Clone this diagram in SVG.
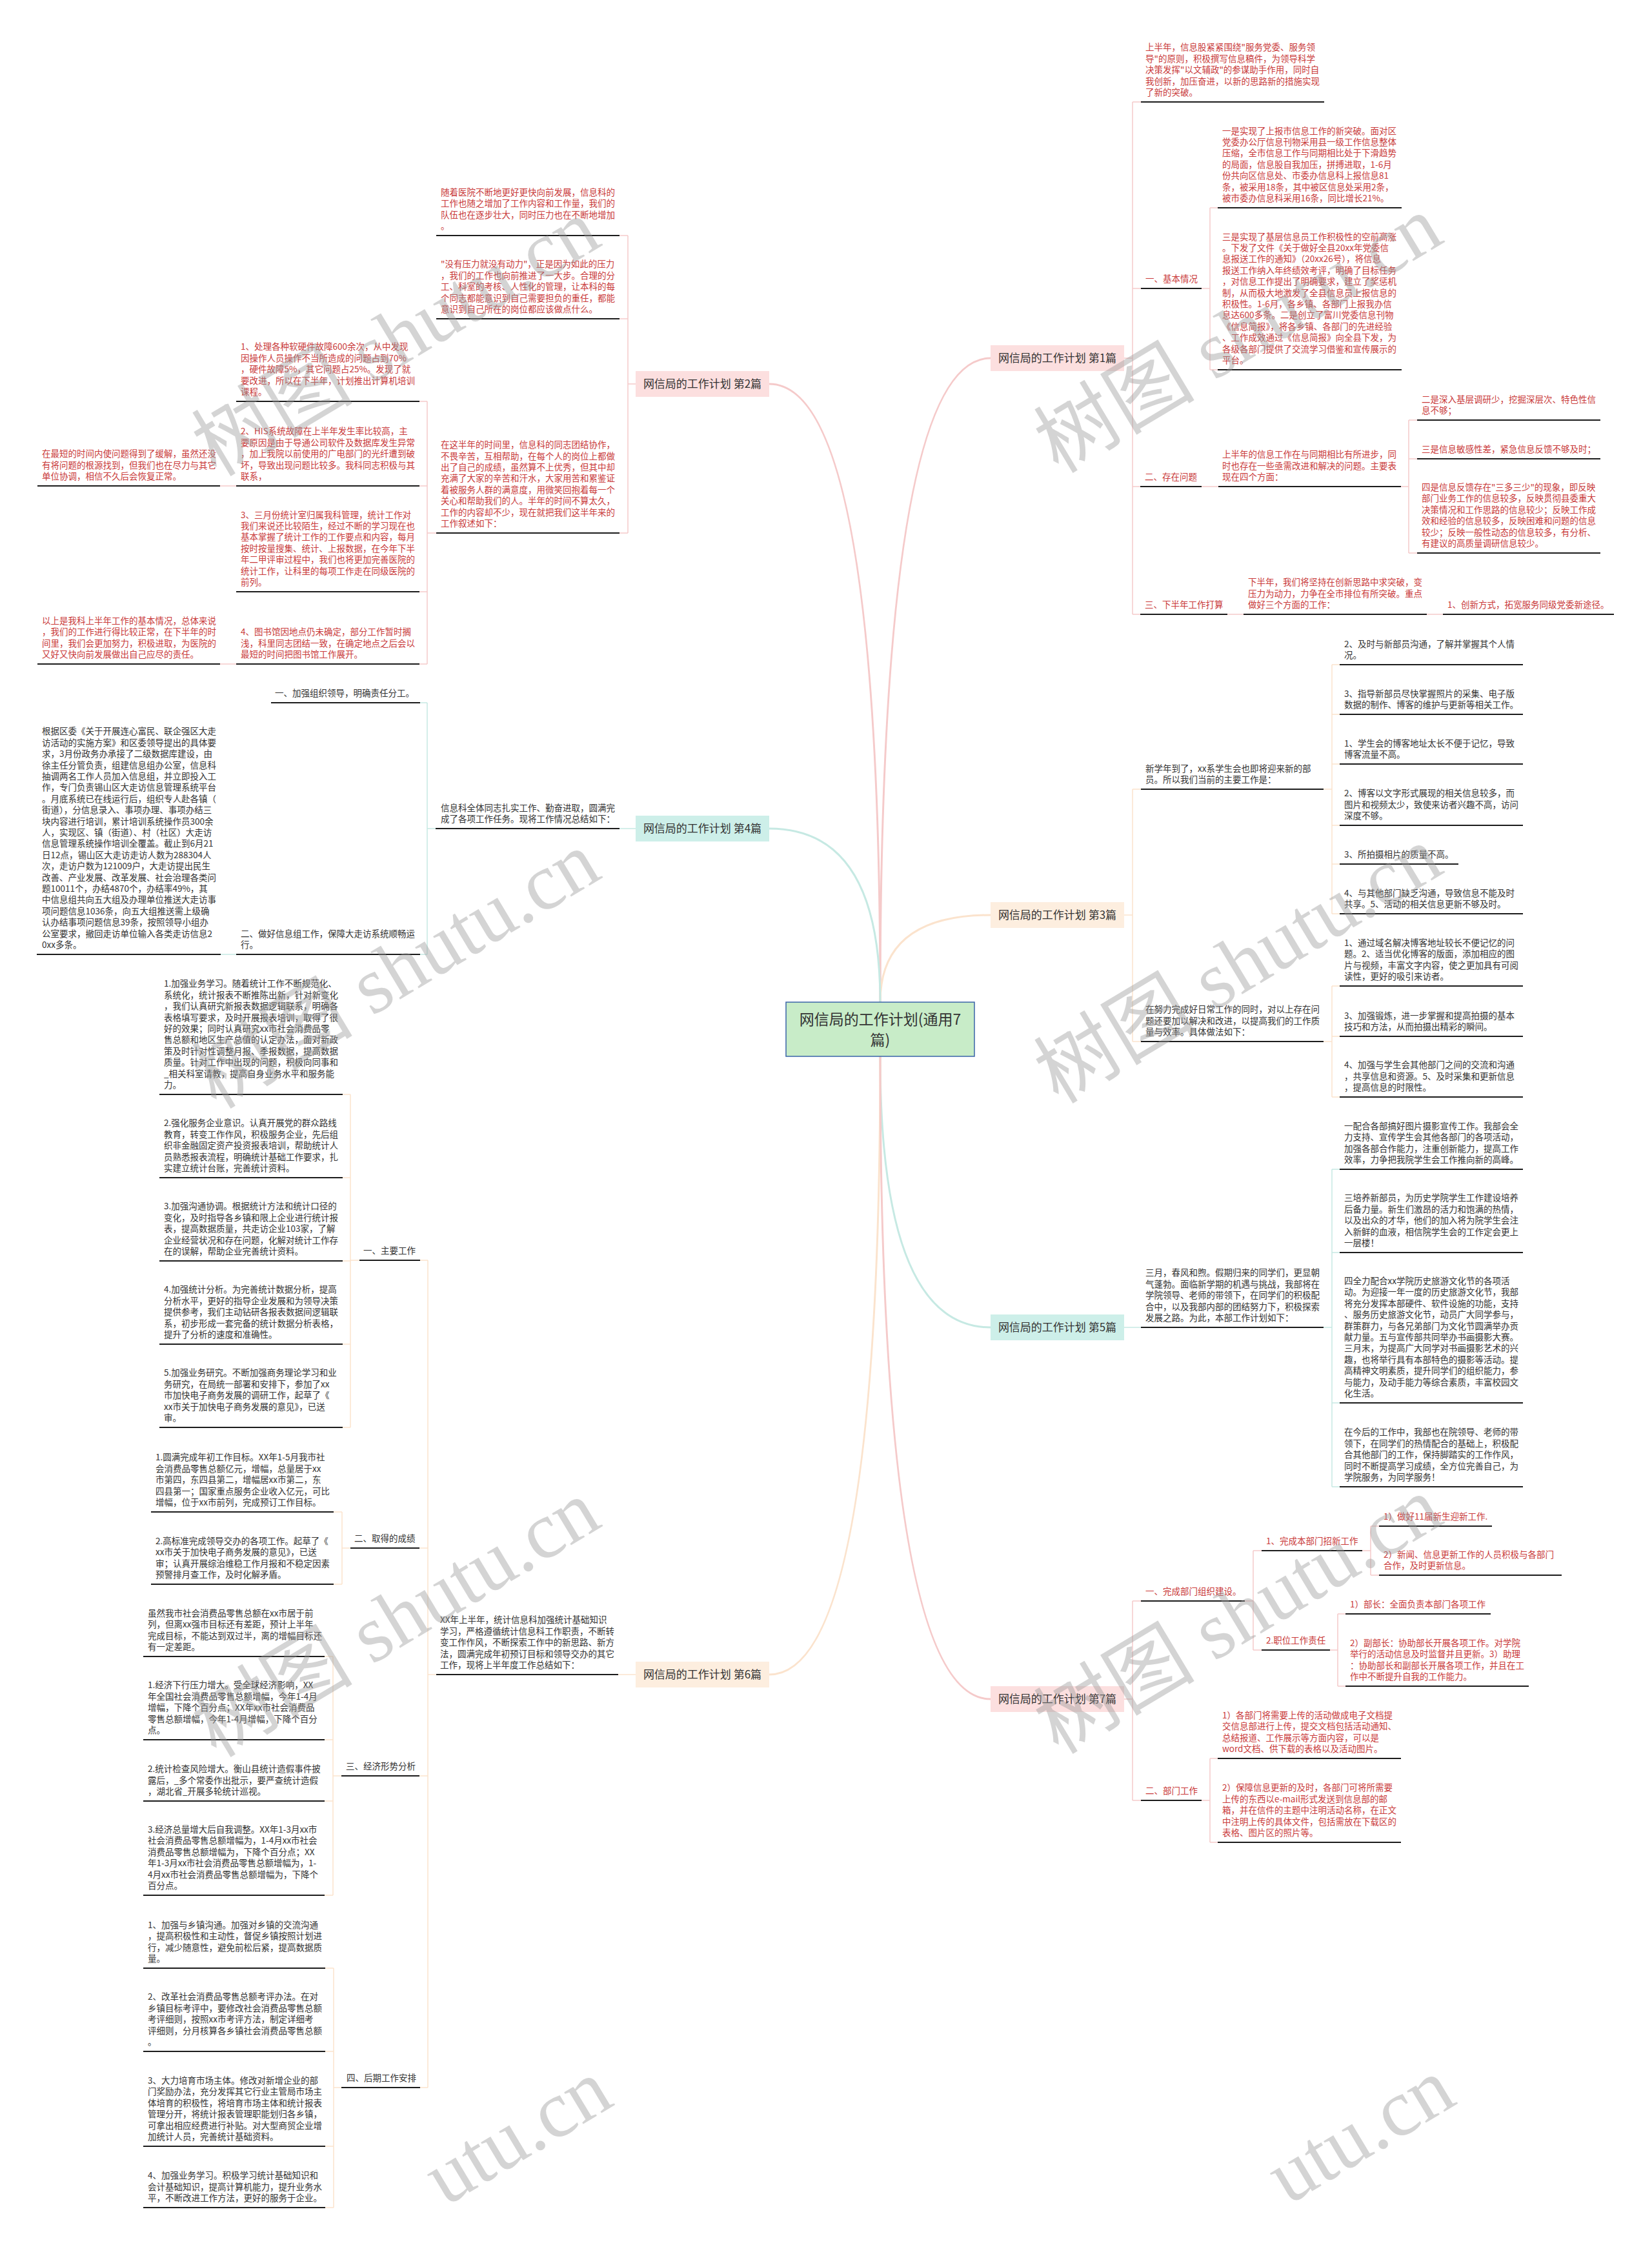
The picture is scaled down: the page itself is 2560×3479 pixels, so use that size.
<svg xmlns="http://www.w3.org/2000/svg" width="2560" height="3479" viewBox="0 0 2560 3479">
<style>
text{font-family:"Noto Sans CJK SC","Noto Sans",sans-serif;font-size:13.5px}
.r{fill:#c93a3a}
.k{fill:#333}
.ul{stroke:#1c1c1c;stroke-width:2}
.lp{fill:none;stroke:#f5caca;stroke-width:1.5}
.lt{fill:none;stroke:#c6e9e3;stroke-width:1.5}
.lo{fill:none;stroke:#fbe3cd;stroke-width:1.5}
.mp{fill:none;stroke:#f5caca;stroke-width:3}
.mt{fill:none;stroke:#c6e9e3;stroke-width:3}
.mo{fill:none;stroke:#fbe3cd;stroke-width:3}
.bp{fill:#fcdfdf}.bt{fill:#cdefe9}.bo{fill:#fdeedf}
.bl{font-size:17px;fill:#333;text-anchor:middle}
.wm{font-family:"Liberation Serif","Noto Sans CJK SC",serif;font-size:125px;fill:#999;fill-opacity:0.42}
</style>
<rect width="2560" height="3479" fill="#fff"/>
<g id="connectors">
<path class="mp" d="M1364 1553 Q1364 555 1535 555"/>
<path class="mp" d="M1364 1553 Q1364 595 1192 595"/>
<path class="mo" d="M1364 1553 Q1364 1418 1535 1418"/>
<path class="mt" d="M1364 1553 Q1364 1284 1192 1284"/>
<path class="mt" d="M1364 1637 Q1364 2057 1535 2057"/>
<path class="mo" d="M1364 1637 Q1364 2595 1192 2595"/>
<path class="mp" d="M1364 1637 Q1364 2633 1535 2633"/>
<path class="lp" d="M973 365V826M960 365H973M960 494H973M960 826H973M973 595H985M662 622V1029M650 622H662M650 753H662M650 917H662M650 1029H662M662 826H676M341 753H366M341 1029H366"/>
<path class="lt" d="M662 1089V1479M651 1089H662M651 1479H662M662 1284H675M960 1284H985M342 1479H366"/>
<path class="lo" d="M958 2595H985M663 1953V3235M651 1953H663M650 2399H663M650 2752H663M651 3235H663M663 2595H676M543 1696V2212M531 1696H543M531 1825H543M531 1954H543M531 2083H543M531 2212H543M543 1953H557M530 2343V2455M517 2343H530M517 2455H530M530 2399H543M516 2567V2937M503 2567H516M503 2696H516M503 2791H516M503 2937H516M516 2752H529M517 3050V3421M504 3050H517M504 3179H517M504 3326H517M504 3421H517M517 3235H529"/>
<path class="lp" d="M1755 158V952M1742 555H1755M1755 158H1768M1755 447H1768M1755 754H1767M1755 952H1767M1875 322V573M1862 447H1875M1875 322H1887M1875 573H1887M1862 754H1888M2183 651V857M2171 754H2183M2183 651H2196M2183 711H2196M2183 857H2196M1902 952H1927M2211 952H2236"/>
<path class="lo" d="M1755 1223V1614M1742 1418H1755M1755 1223H1768M1755 1614H1768M2064 1030V1416M2051 1223H2064M2064 1030H2076M2064 1107H2076M2064 1184H2076M2064 1279H2076M2064 1339H2076M2064 1416H2076M2064 1528V1700M2051 1614H2064M2064 1528H2076M2064 1606H2076M2064 1700H2076"/>
<path class="lt" d="M1742 2057H1768M2064 1812V2304M2051 2057H2064M2064 1812H2076M2064 1941H2076M2064 2174H2076M2064 2304H2076"/>
<path class="lp" d="M1755 2481V2790M1742 2633H1755M1755 2481H1768M1755 2790H1768M1942 2403V2557M1929 2481H1942M1942 2403H1955M1942 2557H1955M2124 2365V2441M2111 2403H2124M2124 2365H2137M2124 2441H2137M2073 2501V2613M2061 2557H2073M2073 2501H2085M2073 2613H2085M1875 2725V2855M1862 2790H1875M1875 2725H1887M1875 2855H1887"/>
</g>
<g id="center"><rect x="1218" y="1553" width="292" height="84" fill="#c8ecc8" stroke="#3a64a8" stroke-width="1.5"/><text x="1364" y="1588" fill="#333" text-anchor="middle" style="font-size:23px">网信局的工作计划(通用7</text><text x="1364" y="1620" fill="#333" text-anchor="middle" style="font-size:23px">篇)</text></g>
<g id="b1"><rect class="bp" x="1535" y="535" width="207" height="40"/><text class="bl" x="1638.5" y="561">网信局的工作计划 第1篇</text></g>
<g id="b2"><rect class="bp" x="985" y="575" width="207" height="40"/><text class="bl" x="1088.5" y="601">网信局的工作计划 第2篇</text></g>
<g id="b3"><rect class="bo" x="1535" y="1398" width="207" height="40"/><text class="bl" x="1638.5" y="1424">网信局的工作计划 第3篇</text></g>
<g id="b4"><rect class="bt" x="985" y="1264" width="207" height="40"/><text class="bl" x="1088.5" y="1290">网信局的工作计划 第4篇</text></g>
<g id="b5"><rect class="bt" x="1535" y="2037" width="207" height="40"/><text class="bl" x="1638.5" y="2063">网信局的工作计划 第5篇</text></g>
<g id="b6"><rect class="bo" x="985" y="2575" width="207" height="40"/><text class="bl" x="1088.5" y="2601">网信局的工作计划 第6篇</text></g>
<g id="b7"><rect class="bp" x="1535" y="2613" width="207" height="40"/><text class="bl" x="1638.5" y="2639">网信局的工作计划 第7篇</text></g>

<g id="t2a"><line class="ul" x1="676" y1="365" x2="960" y2="365"/><text class="r"><tspan x="683" y="302.8">随着医院不断地更好更快向前发展，信息科的</tspan><tspan x="683" y="320.2">工作也随之增加了工作内容和工作量，我们的</tspan><tspan x="683" y="337.6">队伍也在逐步壮大，同时压力也在不断地增加</tspan><tspan x="683" y="355">。</tspan></text></g>
<g id="t2b"><line class="ul" x1="676" y1="494" x2="960" y2="494"/><text class="r"><tspan x="683" y="414.4">"没有压力就没有动力"，正是因为如此的压力</tspan><tspan x="683" y="431.8">，我们的工作也向前推进了一大步。合理的分</tspan><tspan x="683" y="449.2">工、科室的考核、人性化的管理，让本科的每</tspan><tspan x="683" y="466.6">个同志都能意识到自己需要担负的重任，都能</tspan><tspan x="683" y="484">意识到自己所在的岗位都应该做点什么。</tspan></text></g>
<g id="t2c"><line class="ul" x1="676" y1="826" x2="960" y2="826"/><text class="r"><tspan x="683" y="694.2">在这半年的时间里，信息科的同志团结协作，</tspan><tspan x="683" y="711.6">不畏辛苦，互相帮助，在每个人的岗位上都做</tspan><tspan x="683" y="729">出了自己的成绩，虽然算不上优秀，但其中却</tspan><tspan x="683" y="746.4">充满了大家的辛苦和汗水，大家用苦和累鉴证</tspan><tspan x="683" y="763.8">着被服务人群的满意度，用微笑回抱着每一个</tspan><tspan x="683" y="781.2">关心和帮助我们的人。半年的时间不算太久，</tspan><tspan x="683" y="798.6">工作的内容却不少，现在就把我们这半年来的</tspan><tspan x="683" y="816">工作叙述如下：</tspan></text></g>
<g id="c1"><line class="ul" x1="366" y1="622" x2="650" y2="622"/><text class="r"><tspan x="373" y="542.4">1、处理各种软硬件故障600余次，从中发现</tspan><tspan x="373" y="559.8">因操作人员操作不当所造成的问题占到70%</tspan><tspan x="373" y="577.2">，硬件故障5%，其它问题占25%。发现了就</tspan><tspan x="373" y="594.6">要改进，所以在下半年，计划推出计算机培训</tspan><tspan x="373" y="612">课程。</tspan></text></g>
<g id="c2"><line class="ul" x1="366" y1="753" x2="650" y2="753"/><text class="r"><tspan x="373" y="673.4">2、HIS系统故障在上半年发生率比较高，主</tspan><tspan x="373" y="690.8">要原因是由于导通公司软件及数据库发生异常</tspan><tspan x="373" y="708.2">，加上我院以前使用的广电部门的光纤遭到破</tspan><tspan x="373" y="725.6">坏，导致出现问题比较多。我科同志积极与其</tspan><tspan x="373" y="743">联系，</tspan></text></g>
<g id="c2l"><line class="ul" x1="58" y1="753" x2="341" y2="753"/><text class="r"><tspan x="65" y="708.2">在最短的时间内使问题得到了缓解，虽然还没</tspan><tspan x="65" y="725.6">有将问题的根源找到，但我们也在尽力与其它</tspan><tspan x="65" y="743">单位协调，相信不久后会恢复正常。</tspan></text></g>
<g id="c3"><line class="ul" x1="366" y1="917" x2="650" y2="917"/><text class="r"><tspan x="373" y="802.6">3、三月份统计室归属我科管理，统计工作对</tspan><tspan x="373" y="820">我们来说还比较陌生，经过不断的学习现在也</tspan><tspan x="373" y="837.4">基本掌握了统计工作的工作要点和内容，每月</tspan><tspan x="373" y="854.8">按时按量搜集、统计、上报数据，在今年下半</tspan><tspan x="373" y="872.2">年二甲评审过程中，我们也将更加完善医院的</tspan><tspan x="373" y="889.6">统计工作，让科里的每项工作走在同级医院的</tspan><tspan x="373" y="907">前列。</tspan></text></g>
<g id="c4"><line class="ul" x1="366" y1="1029" x2="650" y2="1029"/><text class="r"><tspan x="373" y="984.2">4、图书馆因地点仍未确定，部分工作暂时搁</tspan><tspan x="373" y="1001.6">浅，科里同志团结一致，在确定地点之后会以</tspan><tspan x="373" y="1019">最短的时间把图书馆工作展开。</tspan></text></g>
<g id="c4l"><line class="ul" x1="58" y1="1029" x2="341" y2="1029"/><text class="r"><tspan x="65" y="966.8">以上是我科上半年工作的基本情况，总体来说</tspan><tspan x="65" y="984.2">，我们的工作进行得比较正常，在下半年的时</tspan><tspan x="65" y="1001.6">间里，我们会更加努力，积极进取，为医院的</tspan><tspan x="65" y="1019">又好又快向前发展做出自己应尽的责任。</tspan></text></g>

<g id="t4"><line class="ul" x1="675" y1="1284" x2="960" y2="1284"/><text class="k"><tspan x="683" y="1256.6">信息科全体同志扎实工作、勤奋进取，圆满完</tspan><tspan x="683" y="1274">成了各项工作任务。现将工作情况总结如下：</tspan></text></g>
<g id="t4a"><line class="ul" x1="420" y1="1089" x2="651" y2="1089"/><text class="k" x="426" y="1079">一、加强组织领导，明确责任分工。</text></g>
<g id="t4b"><line class="ul" x1="366" y1="1479" x2="651" y2="1479"/><text class="k"><tspan x="373" y="1451.6">二、做好信息组工作，保障大走访系统顺畅运</tspan><tspan x="373" y="1469">行。</tspan></text></g>
<g id="t4c"><line class="ul" x1="57" y1="1479" x2="342" y2="1479"/><text class="k"><tspan x="65" y="1138.4">根据区委《关于开展连心富民、联企强区大走</tspan><tspan x="65" y="1155.8">访活动的实施方案》和区委领导提出的具体要</tspan><tspan x="65" y="1173.2">求，3月份政务办承接了二级数据库建设，由</tspan><tspan x="65" y="1190.6">徐主任分管负责，组建信息组办公室，信息科</tspan><tspan x="65" y="1208">抽调两名工作人员加入信息组，并立即投入工</tspan><tspan x="65" y="1225.4">作，专门负责锡山区大走访信息管理系统平台</tspan><tspan x="65" y="1242.8">。月底系统已在线运行后，组织专人赴各镇（</tspan><tspan x="65" y="1260.2">街道），分信息录入、事项办理、事项办结三</tspan><tspan x="65" y="1277.6">块内容进行培训，累计培训系统操作员300余</tspan><tspan x="65" y="1295">人，实现区、镇（街道）、村（社区）大走访</tspan><tspan x="65" y="1312.4">信息管理系统操作培训全覆盖。截止到6月21</tspan><tspan x="65" y="1329.8">日12点，锡山区大走访走访人数为288304人</tspan><tspan x="65" y="1347.2">次，走访户数为121009户，大走访提出民生</tspan><tspan x="65" y="1364.6">改善、产业发展、改革发展、社会治理各类问</tspan><tspan x="65" y="1382">题10011个，办结4870个，办结率49%，其</tspan><tspan x="65" y="1399.4">中信息组共向五大组及办理单位推送大走访事</tspan><tspan x="65" y="1416.8">项问题信息1036条，向五大组推送需上级确</tspan><tspan x="65" y="1434.2">认办结事项问题信息39条，按照领导小组办</tspan><tspan x="65" y="1451.6">公室要求，撤回走访单位输入各类走访信息2</tspan><tspan x="65" y="1469">0xx多条。</tspan></text></g>

<g id="t6"><line class="ul" x1="676" y1="2595" x2="958" y2="2595"/><text class="k"><tspan x="682" y="2515.4">XX年上半年，统计信息科加强统计基础知识</tspan><tspan x="682" y="2532.8">学习，严格遵循统计信息科工作职责，不断转</tspan><tspan x="682" y="2550.2">变工作作风，不断探索工作中的新思路、新方</tspan><tspan x="682" y="2567.6">法，圆满完成年初预订目标和领导交办的其它</tspan><tspan x="682" y="2585">工作，现将上半年度工作总结如下：</tspan></text></g>
<g id="s1"><line class="ul" x1="557" y1="1953" x2="651" y2="1953"/><text class="k" x="563" y="1943">一、主要工作</text></g>
<g id="i1"><line class="ul" x1="247" y1="1696" x2="531" y2="1696"/><text class="k"><tspan x="254" y="1529.4">1.加强业务学习。随着统计工作不断规范化、</tspan><tspan x="254" y="1546.8">系统化，统计报表不断推陈出新，针对新变化</tspan><tspan x="254" y="1564.2">，我们认真研究新报表数据逻辑联系，明确各</tspan><tspan x="254" y="1581.6">表格填写要求，及时开展报表培训，取得了很</tspan><tspan x="254" y="1599">好的效果；同时认真研究xx市社会消费品零</tspan><tspan x="254" y="1616.4">售总额和地区生产总值的认定办法，面对新政</tspan><tspan x="254" y="1633.8">策及时针对性调整月报、季报数据，提高数据</tspan><tspan x="254" y="1651.2">质量。针对工作中出现的问题，积极向同事和</tspan><tspan x="254" y="1668.6">_相关科室请教，提高自身业务水平和服务能</tspan><tspan x="254" y="1686">力。</tspan></text></g>
<g id="i2"><line class="ul" x1="247" y1="1825" x2="531" y2="1825"/><text class="k"><tspan x="254" y="1745.4">2.强化服务企业意识。认真开展党的群众路线</tspan><tspan x="254" y="1762.8">教育，转变工作作风，积极服务企业，先后组</tspan><tspan x="254" y="1780.2">织非金融固定资产投资报表培训，帮助统计人</tspan><tspan x="254" y="1797.6">员熟悉报表流程，明确统计基础工作要求，扎</tspan><tspan x="254" y="1815">实建立统计台账，完善统计资料。</tspan></text></g>
<g id="i3"><line class="ul" x1="247" y1="1954" x2="531" y2="1954"/><text class="k"><tspan x="254" y="1874.4">3.加强沟通协调。根据统计方法和统计口径的</tspan><tspan x="254" y="1891.8">变化，及时指导各乡镇和限上企业进行统计报</tspan><tspan x="254" y="1909.2">表，提高数据质量，共走访企业103家，了解</tspan><tspan x="254" y="1926.6">企业经营状况和存在问题，化解对统计工作存</tspan><tspan x="254" y="1944">在的误解，帮助企业完善统计资料。</tspan></text></g>
<g id="i4"><line class="ul" x1="247" y1="2083" x2="531" y2="2083"/><text class="k"><tspan x="254" y="2003.4">4.加强统计分析。为完善统计数据分析，提高</tspan><tspan x="254" y="2020.8">分析水平，更好的指导企业发展和为领导决策</tspan><tspan x="254" y="2038.2">提供参考，我们主动钻研各报表数据间逻辑联</tspan><tspan x="254" y="2055.6">系，初步形成一套完备的统计数据分析表格，</tspan><tspan x="254" y="2073">提升了分析的速度和准确性。</tspan></text></g>
<g id="i5"><line class="ul" x1="247" y1="2212" x2="531" y2="2212"/><text class="k"><tspan x="254" y="2132.4">5.加强业务研究。不断加强商务理论学习和业</tspan><tspan x="254" y="2149.8">务研究，在局统一部署和安排下，参加了xx</tspan><tspan x="254" y="2167.2">市加快电子商务发展的调研工作，起草了《</tspan><tspan x="254" y="2184.6">xx市关于加快电子商务发展的意见》，已送</tspan><tspan x="254" y="2202">审。</tspan></text></g>
<g id="s2"><line class="ul" x1="543" y1="2399" x2="650" y2="2399"/><text class="k" x="549" y="2389">二、取得的成绩</text></g>
<g id="ii1"><line class="ul" x1="234" y1="2343" x2="517" y2="2343"/><text class="k"><tspan x="241" y="2263.4">1.圆满完成年初工作目标。XX年1-5月我市社</tspan><tspan x="241" y="2280.8">会消费品零售总额亿元，增幅，总量居于xx</tspan><tspan x="241" y="2298.2">市第四，东四县第二，增幅居xx市第二，东</tspan><tspan x="241" y="2315.6">四县第一；国家重点服务企业收入亿元，可比</tspan><tspan x="241" y="2333">增幅，位于xx市前列，完成预订工作目标。</tspan></text></g>
<g id="ii2"><line class="ul" x1="234" y1="2455" x2="517" y2="2455"/><text class="k"><tspan x="241" y="2392.8">2.高标准完成领导交办的各项工作。起草了《</tspan><tspan x="241" y="2410.2">xx市关于加快电子商务发展的意见》，已送</tspan><tspan x="241" y="2427.6">审；认真开展综治维稳工作月报和不稳定因素</tspan><tspan x="241" y="2445">预警排月查工作，及时化解矛盾。</tspan></text></g>
<g id="s3"><line class="ul" x1="529" y1="2752" x2="650" y2="2752"/><text class="k" x="536" y="2742">三、经济形势分析</text></g>
<g id="iii1"><line class="ul" x1="222" y1="2567" x2="503" y2="2567"/><text class="k"><tspan x="229" y="2504.8">虽然我市社会消费品零售总额在xx市居于前</tspan><tspan x="229" y="2522.2">列，但离xx强市目标还有差距，预计上半年</tspan><tspan x="229" y="2539.6">完成目标，不能达到双过半，离的增幅目标还</tspan><tspan x="229" y="2557">有一定差距。</tspan></text></g>
<g id="iii2"><line class="ul" x1="222" y1="2696" x2="503" y2="2696"/><text class="k"><tspan x="229" y="2616.4">1.经济下行压力增大。受全球经济影响，XX</tspan><tspan x="229" y="2633.8">年全国社会消费品零售总额增幅，今年1-4月</tspan><tspan x="229" y="2651.2">增幅，下降个百分点；XX年xx市社会消费品</tspan><tspan x="229" y="2668.6">零售总额增幅，今年1-4月增幅，下降个百分</tspan><tspan x="229" y="2686">点。</tspan></text></g>
<g id="iii3"><line class="ul" x1="222" y1="2791" x2="503" y2="2791"/><text class="k"><tspan x="229" y="2746.2">2.统计检查风险增大。衡山县统计造假事件披</tspan><tspan x="229" y="2763.6">露后，_多个常委作出批示，要严查统计造假</tspan><tspan x="229" y="2781">，湖北省_开展多轮统计巡视。</tspan></text></g>
<g id="iii4"><line class="ul" x1="222" y1="2937" x2="503" y2="2937"/><text class="k"><tspan x="229" y="2840">3.经济总量增大后自我调整。XX年1-3月xx市</tspan><tspan x="229" y="2857.4">社会消费品零售总额增幅为，1-4月xx市社会</tspan><tspan x="229" y="2874.8">消费品零售总额增幅为，下降个百分点；XX</tspan><tspan x="229" y="2892.2">年1-3月xx市社会消费品零售总额增幅为，1-</tspan><tspan x="229" y="2909.6">4月xx市社会消费品零售总额增幅为，下降个</tspan><tspan x="229" y="2927">百分点。</tspan></text></g>
<g id="s4"><line class="ul" x1="529" y1="3235" x2="651" y2="3235"/><text class="k" x="537" y="3225">四、后期工作安排</text></g>
<g id="iv1"><line class="ul" x1="222" y1="3050" x2="504" y2="3050"/><text class="k"><tspan x="229" y="2987.8">1、加强与乡镇沟通。加强对乡镇的交流沟通</tspan><tspan x="229" y="3005.2">，提高积极性和主动性，督促乡镇按照计划进</tspan><tspan x="229" y="3022.6">行，减少随意性，避免前松后紧，提高数据质</tspan><tspan x="229" y="3040">量。</tspan></text></g>
<g id="iv2"><line class="ul" x1="222" y1="3179" x2="504" y2="3179"/><text class="k"><tspan x="229" y="3099.4">2、改革社会消费品零售总额考评办法。在对</tspan><tspan x="229" y="3116.8">乡镇目标考评中，要修改社会消费品零售总额</tspan><tspan x="229" y="3134.2">考评细则，按照xx市考评方法，制定详细考</tspan><tspan x="229" y="3151.6">评细则，分月核算各乡镇社会消费品零售总额</tspan><tspan x="229" y="3169">。</tspan></text></g>
<g id="iv3"><line class="ul" x1="222" y1="3326" x2="504" y2="3326"/><text class="k"><tspan x="229" y="3229">3、大力培育市场主体。修改对新增企业的部</tspan><tspan x="229" y="3246.4">门奖励办法，充分发挥其它行业主管局市场主</tspan><tspan x="229" y="3263.8">体培育的积极性，将培育市场主体和统计报表</tspan><tspan x="229" y="3281.2">管理分开，将统计报表管理职能划归各乡镇，</tspan><tspan x="229" y="3298.6">可拿出相应经费进行补贴。对大型商贸企业增</tspan><tspan x="229" y="3316">加统计人员，完善统计基础资料。</tspan></text></g>
<g id="iv4"><line class="ul" x1="222" y1="3421" x2="504" y2="3421"/><text class="k"><tspan x="229" y="3376.2">4、加强业务学习。积极学习统计基础知识和</tspan><tspan x="229" y="3393.6">会计基础知识，提高计算机能力，提升业务水</tspan><tspan x="229" y="3411">平，不断改进工作方法，更好的服务于企业。</tspan></text></g>

<g id="b1a"><line class="ul" x1="1768" y1="158" x2="2052" y2="158"/><text class="r"><tspan x="1775" y="78.4">上半年，信息股紧紧围绕"服务党委、服务领</tspan><tspan x="1775" y="95.8">导"的原则，积极撰写信息稿件，为领导科学</tspan><tspan x="1775" y="113.2">决策发挥"以文辅政"的参谋助手作用，同时自</tspan><tspan x="1775" y="130.6">我创新，加压奋进，以新的思路新的措施实现</tspan><tspan x="1775" y="148">了新的突破。</tspan></text></g>
<g id="b1s1"><line class="ul" x1="1768" y1="447" x2="1862" y2="447"/><text class="r" x="1775" y="437">一、基本情况</text></g>
<g id="b1b"><line class="ul" x1="1887" y1="322" x2="2172" y2="322"/><text class="r"><tspan x="1894" y="207.6">一是实现了上报市信息工作的新突破。面对区</tspan><tspan x="1894" y="225">党委办公厅信息刊物采用县一级工作信息整体</tspan><tspan x="1894" y="242.4">压缩，全市信息工作与同期相比处于下滑趋势</tspan><tspan x="1894" y="259.8">的局面，信息股自我加压，拼搏进取，1-6月</tspan><tspan x="1894" y="277.2">份共向区信息处、市委办信息科上报信息81</tspan><tspan x="1894" y="294.6">条，被采用18条，其中被区信息处采用2条，</tspan><tspan x="1894" y="312">被市委办信息科采用16条，同比增长21%。</tspan></text></g>
<g id="b1c"><line class="ul" x1="1887" y1="573" x2="2172" y2="573"/><text class="r"><tspan x="1894" y="371.6">三是实现了基层信息员工作积极性的空前高涨</tspan><tspan x="1894" y="389">。下发了文件《关于做好全县20xx年党委信</tspan><tspan x="1894" y="406.4">息报送工作的通知》（20xx26号），将信息</tspan><tspan x="1894" y="423.8">报送工作纳入年终绩效考评，明确了目标任务</tspan><tspan x="1894" y="441.2">，对信息工作提出了明确要求，建立了奖惩机</tspan><tspan x="1894" y="458.6">制，从而极大地激发了全县信息员上报信息的</tspan><tspan x="1894" y="476">积极性。1-6月，各乡镇、各部门上报我办信</tspan><tspan x="1894" y="493.4">息达600多条。二是创立了富川党委信息刊物</tspan><tspan x="1894" y="510.8">《信息简报》，将各乡镇、各部门的先进经验</tspan><tspan x="1894" y="528.2">、工作成效通过《信息简报》向全县下发，为</tspan><tspan x="1894" y="545.6">各级各部门提供了交流学习借鉴和宣传展示的</tspan><tspan x="1894" y="563">平台。</tspan></text></g>
<g id="b1s2"><line class="ul" x1="1767" y1="754" x2="1862" y2="754"/><text class="r" x="1774" y="744">二、存在问题</text></g>
<g id="b1d"><line class="ul" x1="1888" y1="754" x2="2171" y2="754"/><text class="r"><tspan x="1894" y="709.2">上半年的信息工作在与同期相比有所进步，同</tspan><tspan x="1894" y="726.6">时也存在一些亟需改进和解决的问题。主要表</tspan><tspan x="1894" y="744">现在四个方面：</tspan></text></g>
<g id="d1"><line class="ul" x1="2196" y1="651" x2="2480" y2="651"/><text class="r"><tspan x="2203" y="623.6">二是深入基层调研少，挖掘深层次、特色性信</tspan><tspan x="2203" y="641">息不够；</tspan></text></g>
<g id="d2"><line class="ul" x1="2196" y1="711" x2="2480" y2="711"/><text class="r" x="2203" y="701">三是信息敏感性差，紧急信息反馈不够及时；</text></g>
<g id="d3"><line class="ul" x1="2196" y1="857" x2="2480" y2="857"/><text class="r"><tspan x="2203" y="760">四是信息反馈存在"三多三少"的现象，即反映</tspan><tspan x="2203" y="777.4">部门业务工作的信息较多，反映贯彻县委重大</tspan><tspan x="2203" y="794.8">决策情况和工作思路的信息较少；反映工作成</tspan><tspan x="2203" y="812.2">效和经验的信息较多，反映困难和问题的信息</tspan><tspan x="2203" y="829.6">较少；反映一般性动态的信息较多，有分析、</tspan><tspan x="2203" y="847">有建议的高质量调研信息较少。</tspan></text></g>
<g id="b1s3"><line class="ul" x1="1767" y1="952" x2="1902" y2="952"/><text class="r" x="1774" y="942">三、下半年工作打算</text></g>
<g id="b1e"><line class="ul" x1="1927" y1="952" x2="2211" y2="952"/><text class="r"><tspan x="1934" y="907.2">下半年，我们将坚持在创新思路中求突破，变</tspan><tspan x="1934" y="924.6">压力为动力，力争在全市排位有所突破。重点</tspan><tspan x="1934" y="942">做好三个方面的工作：</tspan></text></g>
<g id="b1f"><line class="ul" x1="2236" y1="952" x2="2501" y2="952"/><text class="r" x="2243" y="942">1、创新方式，拓宽服务同级党委新途径。</text></g>

<g id="b3a"><line class="ul" x1="1768" y1="1223" x2="2051" y2="1223"/><text class="k"><tspan x="1775" y="1195.6">新学年到了，xx系学生会也即将迎来新的部</tspan><tspan x="1775" y="1213">员。所以我们当前的主要工作是：</tspan></text></g>
<g id="k1"><line class="ul" x1="2076" y1="1030" x2="2360" y2="1030"/><text class="k"><tspan x="2083" y="1002.6">2、及时与新部员沟通，了解并掌握其个人情</tspan><tspan x="2083" y="1020">况。</tspan></text></g>
<g id="k2"><line class="ul" x1="2076" y1="1107" x2="2360" y2="1107"/><text class="k"><tspan x="2083" y="1079.6">3、指导新部员尽快掌握照片的采集、电子版</tspan><tspan x="2083" y="1097">数据的制作、博客的维护与更新等相关工作。</tspan></text></g>
<g id="k3"><line class="ul" x1="2076" y1="1184" x2="2360" y2="1184"/><text class="k"><tspan x="2083" y="1156.6">1、学生会的博客地址太长不便于记忆，导致</tspan><tspan x="2083" y="1174">博客流量不高。</tspan></text></g>
<g id="k4"><line class="ul" x1="2076" y1="1279" x2="2360" y2="1279"/><text class="k"><tspan x="2083" y="1234.2">2、博客以文字形式展现的相关信息较多，而</tspan><tspan x="2083" y="1251.6">图片和视频太少，致使来访者兴趣不高，访问</tspan><tspan x="2083" y="1269">深度不够。</tspan></text></g>
<g id="k5"><line class="ul" x1="2076" y1="1339" x2="2260" y2="1339"/><text class="k" x="2083" y="1329">3、所拍摄相片的质量不高。</text></g>
<g id="k6"><line class="ul" x1="2076" y1="1416" x2="2360" y2="1416"/><text class="k"><tspan x="2083" y="1388.6">4、与其他部门缺乏沟通，导致信息不能及时</tspan><tspan x="2083" y="1406">共享。5、活动的相关信息更新不够及时。</tspan></text></g>
<g id="b3b"><line class="ul" x1="1768" y1="1614" x2="2051" y2="1614"/><text class="k"><tspan x="1775" y="1569.2">在努力完成好日常工作的同时，对以上存在问</tspan><tspan x="1775" y="1586.6">题还要加以解决和改进，以提高我们的工作质</tspan><tspan x="1775" y="1604">量与效率。具体做法如下：</tspan></text></g>
<g id="m1"><line class="ul" x1="2076" y1="1528" x2="2360" y2="1528"/><text class="k"><tspan x="2083" y="1465.8">1、通过域名解决博客地址较长不便记忆的问</tspan><tspan x="2083" y="1483.2">题。2、适当优化博客的版面，添加相应的图</tspan><tspan x="2083" y="1500.6">片与视频，丰富文字内容，使之更加具有可阅</tspan><tspan x="2083" y="1518">读性，更好的吸引来访者。</tspan></text></g>
<g id="m2"><line class="ul" x1="2076" y1="1606" x2="2360" y2="1606"/><text class="k"><tspan x="2083" y="1578.6">3、加强锻炼，进一步掌握和提高拍摄的基本</tspan><tspan x="2083" y="1596">技巧和方法，从而拍摄出精彩的瞬间。</tspan></text></g>
<g id="m3"><line class="ul" x1="2076" y1="1700" x2="2360" y2="1700"/><text class="k"><tspan x="2083" y="1655.2">4、加强与学生会其他部门之间的交流和沟通</tspan><tspan x="2083" y="1672.6">，共享信息和资源。5、及时采集和更新信息</tspan><tspan x="2083" y="1690">，提高信息的时限性。</tspan></text></g>

<g id="t5"><line class="ul" x1="1768" y1="2057" x2="2051" y2="2057"/><text class="k"><tspan x="1775" y="1977.4">三月，春风和煦。假期归来的同学们，更显朝</tspan><tspan x="1775" y="1994.8">气蓬勃。面临新学期的机遇与挑战，我部将在</tspan><tspan x="1775" y="2012.2">学院领导、老师的带领下，在同学们的积极配</tspan><tspan x="1775" y="2029.6">合中，以及我部内部的团结努力下，积极探索</tspan><tspan x="1775" y="2047">发展之路。为此，本部工作计划如下：</tspan></text></g>
<g id="n1"><line class="ul" x1="2076" y1="1812" x2="2360" y2="1812"/><text class="k"><tspan x="2083" y="1749.8">一配合各部搞好图片摄影宣传工作。我部会全</tspan><tspan x="2083" y="1767.2">力支持、宣传学生会其他各部门的各项活动，</tspan><tspan x="2083" y="1784.6">加强各部合作能力，注重创新能力，提高工作</tspan><tspan x="2083" y="1802">效率，力争把我院学生会工作推向新的高峰。</tspan></text></g>
<g id="n2"><line class="ul" x1="2076" y1="1941" x2="2360" y2="1941"/><text class="k"><tspan x="2083" y="1861.4">三培养新部员，为历史学院学生工作建设培养</tspan><tspan x="2083" y="1878.8">后备力量。新生们激昂的活力和饱满的热情，</tspan><tspan x="2083" y="1896.2">以及出众的才华，他们的加入将为院学生会注</tspan><tspan x="2083" y="1913.6">入新鲜的血液，相信院学生会的工作定会更上</tspan><tspan x="2083" y="1931">一层楼！</tspan></text></g>
<g id="n3"><line class="ul" x1="2076" y1="2174" x2="2360" y2="2174"/><text class="k"><tspan x="2083" y="1990">四全力配合xx学院历史旅游文化节的各项活</tspan><tspan x="2083" y="2007.4">动。为迎接一年一度的历史旅游文化节，我部</tspan><tspan x="2083" y="2024.8">将充分发挥本部硬件、软件设施的功能，支持</tspan><tspan x="2083" y="2042.2">、服务历史旅游文化节，动员广大同学参与，</tspan><tspan x="2083" y="2059.6">群策群力，与各兄弟部门为文化节圆满举办贡</tspan><tspan x="2083" y="2077">献力量。五与宣传部共同举办书画摄影大赛。</tspan><tspan x="2083" y="2094.4">三月末，为提高广大同学对书画摄影艺术的兴</tspan><tspan x="2083" y="2111.8">趣，也将举行具有本部特色的摄影等活动。提</tspan><tspan x="2083" y="2129.2">高精神文明素质，提升同学们的组织能力，参</tspan><tspan x="2083" y="2146.6">与能力，及动手能力等综合素质，丰富校园文</tspan><tspan x="2083" y="2164">化生活。</tspan></text></g>
<g id="n4"><line class="ul" x1="2076" y1="2304" x2="2360" y2="2304"/><text class="k"><tspan x="2083" y="2224.4">在今后的工作中，我部也在院领导、老师的带</tspan><tspan x="2083" y="2241.8">领下，在同学们的热情配合的基础上，积极配</tspan><tspan x="2083" y="2259.2">合其他部门的工作，保持脚踏实的工作作风，</tspan><tspan x="2083" y="2276.6">同时不断提高学习成绩，全方位完善自己，为</tspan><tspan x="2083" y="2294">学院服务，为同学服务！</tspan></text></g>

<g id="b7s1"><line class="ul" x1="1768" y1="2481" x2="1929" y2="2481"/><text class="r" x="1775" y="2471">一、完成部门组织建设。</text></g>
<g id="b7a"><line class="ul" x1="1955" y1="2403" x2="2111" y2="2403"/><text class="r" x="1962" y="2393">1、完成本部门招新工作</text></g>
<g id="p1"><line class="ul" x1="2137" y1="2365" x2="2312" y2="2365"/><text class="r" x="2144" y="2355">1）做好11届新生迎新工作.</text></g>
<g id="p2"><line class="ul" x1="2137" y1="2441" x2="2420" y2="2441"/><text class="r"><tspan x="2144" y="2413.6">2）新闻、信息更新工作的人员积极与各部门</tspan><tspan x="2144" y="2431">合作，及时更新信息。</tspan></text></g>
<g id="b7b"><line class="ul" x1="1955" y1="2557" x2="2061" y2="2557"/><text class="r" x="1962" y="2547">2.职位工作责任</text></g>
<g id="q1"><line class="ul" x1="2085" y1="2501" x2="2310" y2="2501"/><text class="r" x="2092" y="2491">1）部长：全面负责本部门各项工作</text></g>
<g id="q2"><line class="ul" x1="2085" y1="2613" x2="2369" y2="2613"/><text class="r"><tspan x="2092" y="2550.8">2）副部长：协助部长开展各项工作。对学院</tspan><tspan x="2092" y="2568.2">举行的活动信息及时监督并且更新。3）助理</tspan><tspan x="2092" y="2585.6">：协助部长和副部长开展各项工作，并且在工</tspan><tspan x="2092" y="2603">作中不断提升自我的工作能力。</tspan></text></g>
<g id="b7s2"><line class="ul" x1="1768" y1="2790" x2="1862" y2="2790"/><text class="r" x="1775" y="2780">二、部门工作</text></g>
<g id="r1"><line class="ul" x1="1887" y1="2725" x2="2171" y2="2725"/><text class="r"><tspan x="1894" y="2662.8">1）各部门将需要上传的活动做成电子文档提</tspan><tspan x="1894" y="2680.2">交信息部进行上传，提交文档包括活动通知、</tspan><tspan x="1894" y="2697.6">总结报道、工作展示等方面内容，可以是</tspan><tspan x="1894" y="2715">word文档、供下载的表格以及活动图片。</tspan></text></g>
<g id="r2"><line class="ul" x1="1887" y1="2855" x2="2171" y2="2855"/><text class="r"><tspan x="1894" y="2775.4">2）保障信息更新的及时，各部门可将所需要</tspan><tspan x="1894" y="2792.8">上传的东西以e-mail形式发送到信息部的邮</tspan><tspan x="1894" y="2810.2">箱，并在信件的主题中注明活动名称，在正文</tspan><tspan x="1894" y="2827.6">中注明上传的具体文件，包括需放在下载区的</tspan><tspan x="1894" y="2845">表格、图片区的照片等。</tspan></text></g>

<g id="watermarks">
<text class="wm" x="335" y="740" transform="rotate(-31 335 740)">树图 shutu.cn</text>
<text class="wm" x="1640" y="735" transform="rotate(-31 1640 735)">树图 shutu.cn</text>
<text class="wm" x="335" y="1720" transform="rotate(-31 335 1720)">树图 shutu.cn</text>
<text class="wm" x="1640" y="1712" transform="rotate(-31 1640 1712)">树图 shutu.cn</text>
<text class="wm" x="335" y="2725" transform="rotate(-31 335 2725)">树图 shutu.cn</text>
<text class="wm" x="1640" y="2720" transform="rotate(-31 1640 2720)">树图 shutu.cn</text>
<text class="wm" x="690" y="3420" transform="rotate(-31 690 3420)">utu.cn</text>
<text class="wm" x="1996" y="3418" transform="rotate(-31 1996 3418)">utu.cn</text>
</g>
</svg>
